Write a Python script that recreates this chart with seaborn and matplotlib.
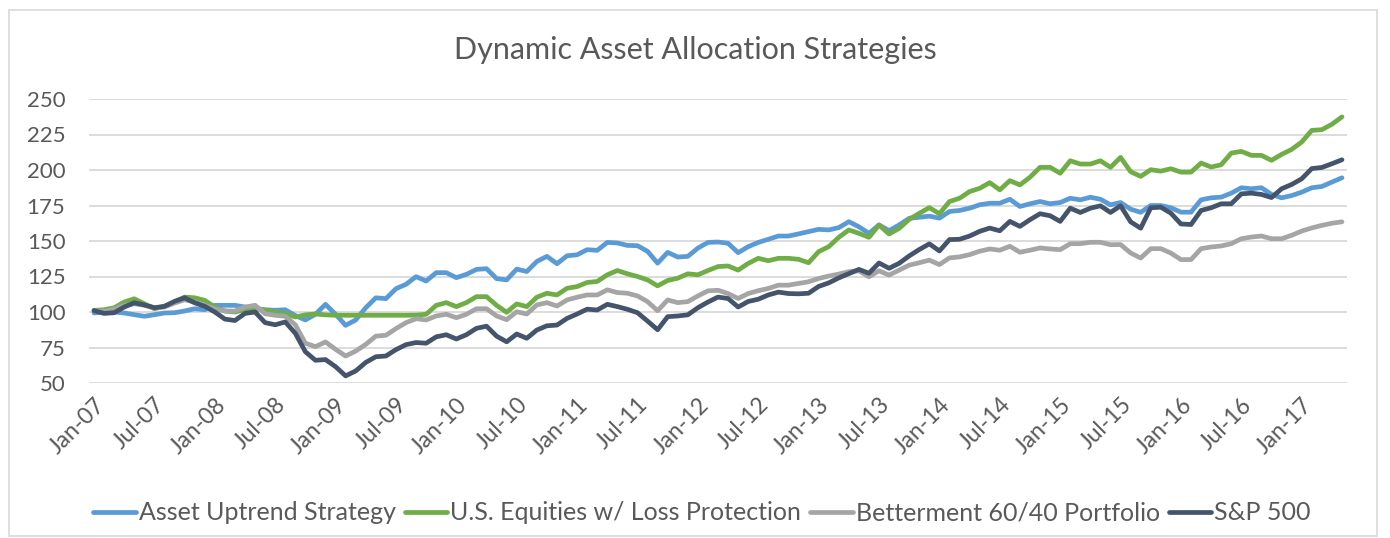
import numpy as np
import pandas as pd
import matplotlib
matplotlib.use('Agg')
import matplotlib.pyplot as plt
import seaborn as sb
from matplotlib.patches import Rectangle


#monthly index values, Jan-07 to May-17
asset_uptrend = [99.3, 100, 100, 99.3, 98.1, 97, 98.1, 99.3, 99.5, 100.7, 102.3, 101.6,
                 104.7, 104.7, 104.7, 103.5, 101.9, 101.6, 101.2, 101.6, 97.5, 94.4, 98.4, 105.4,
                 98.4, 90.6, 94.4, 103, 110, 109.4, 116.4, 119.5, 124.9, 121.8, 127.7, 127.7,
                 124.2, 126.5, 130, 130.5, 123.5, 122.6, 130.2, 128.5, 135.6, 139.2, 134, 139.6,
                 140.3, 143.9, 143.4, 149, 148.6, 146.9, 146.7, 142.7, 134.4, 142, 138.7, 139.2,
                 145, 149, 149.3, 148.4, 141.8, 146, 149, 151.2, 153.5, 153.5, 155, 156.6,
                 158.2, 157.8, 159.4, 163.6, 160, 155.4, 161.3, 157.3, 161.3, 166, 166.7, 167.5,
                 166.1, 170.8, 171.5, 173.1, 175.5, 176.6, 176.6, 179.4, 174.3, 176.2, 177.8, 176.2,
                 177.1, 180.1, 179, 180.8, 179.4, 175.5, 177.1, 172.4, 170.2, 175, 175, 173.4,
                 170.3, 170.3, 179, 180.4, 180.9, 183.7, 187.5, 186.8, 187.5, 182.8, 180.4, 182,
                 184.4, 187.5, 188.4, 191.5, 194.5]

loss_protection = [101.2, 101.6, 103, 107, 109.3, 105.8, 102.3, 104, 107, 110.5, 110, 108.2,
                   103.5, 100.7, 100, 101.6, 103, 101.2, 100, 98.8, 96.5, 98, 98.6, 98,
                   97.7, 97.7, 97.7, 97.7, 97.7, 97.7, 97.7, 97.7, 97.8, 98.4, 104.7, 106.6,
                   103.8, 106.6, 110.8, 110.8, 104.7, 99.8, 105.7, 103.8, 110.4, 113.2, 112, 116.7,
                   117.9, 120.8, 121.5, 126.2, 129.2, 126.9, 125, 122.6, 118.4, 122.2, 123.8, 126.9,
                   126.2, 129.2, 132, 132.4, 129.5, 134.2, 137.8, 136.1, 137.8, 137.8, 137.1, 134.7,
                   142.5, 146, 152.6, 157.8, 155.4, 152.6, 161.3, 154.9, 158.9, 165.3, 169.5, 173.5,
                   169.2, 177.8, 180.1, 184.8, 187.1, 191.1, 186, 192.5, 189.5, 194.9, 201.9, 201.9,
                   197.7, 206.5, 204.2, 204.2, 206.5, 201.9, 208.9, 198.8, 195.5, 200.2, 199.2, 200.9,
                   198.5, 198.5, 204.9, 202.1, 203.7, 211.9, 213.1, 210.3, 210.3, 206.8, 211, 214.5,
                   219.7, 227.9, 228.4, 232.2, 237.4]

betterment = [101.2, 100.5, 102, 104.7, 105.8, 104.7, 103, 103.5, 106.3, 108.6, 107, 104.7,
              102.3, 100.7, 100.7, 103.5, 104.7, 98.8, 97.7, 97, 91, 78, 75.6, 78.9,
              73.7, 69, 72.5, 77.2, 83, 83.6, 88.3, 92.5, 95.3, 94.4, 97.2, 98.4,
              96, 98.4, 102.3, 102.3, 97.2, 94.6, 100.2, 98.6, 105, 106.6, 104.2, 108.5,
              110.4, 112, 112, 115.6, 113.7, 113.2, 111.3, 107.3, 100.9, 108.5, 106.6, 107.3,
              111.3, 114.9, 115.3, 113, 109.5, 113, 115, 116.6, 118.9, 118.9, 120.1, 121.3,
              123.6, 125.3, 126.7, 128.4, 129, 124.8, 129, 126, 129.5, 133, 134.7, 136.5,
              133.4, 138.1, 138.8, 140.4, 142.8, 144.4, 143.5, 146.3, 142.1, 143.5, 145.1, 144.4,
              143.9, 148.1, 148.1, 149.1, 149.1, 147.4, 147.5, 141.6, 138, 144.6, 144.6, 141.5,
              136.9, 136.9, 144.6, 145.8, 146.5, 148.1, 151.6, 152.8, 153.5, 151.6, 151.6, 154,
              157, 159.2, 161, 162.5, 163.5]

sp500 = [101, 99, 99.5, 103.5, 106.5, 105, 103, 104, 107.5, 110, 106.5, 104,
         100, 95, 94, 99, 100, 92.5, 91, 93, 85, 72, 66, 66.5,
         61.5, 55, 58.5, 64.5, 68.5, 69, 73.5, 77, 78.5, 78, 82.5, 84,
         81, 84, 88.5, 90, 83, 79, 84.5, 81.5, 87.3, 90.3, 90.8, 95.5,
         98.6, 102, 101.4, 105.4, 103.8, 101.9, 99.5, 93.6, 87.5, 96.7, 97.2, 98,
         103, 107, 110.5, 109.5, 103.5, 107.4, 109, 112, 114, 113, 112.8, 113.2,
         118, 120.5, 124, 127, 130, 127.3, 134.5, 130.8, 134.3, 139.5, 144, 148,
         143, 151, 151.2, 153.5, 156.8, 159.1, 157.2, 163.8, 160.3, 165, 169.2, 167.8,
         163.8, 173.1, 170.1, 173.1, 174.8, 170.1, 174.8, 163.5, 159, 173.4, 173.8, 169.6,
         162, 161.6, 171.5, 173.4, 176.2, 176.2, 183.2, 183.7, 182.8, 180.6, 186.8, 189.8,
         193.8, 201, 201.8, 204.4, 207.2]

series_names = ['Asset Uptrend Strategy', 'U.S. Equities w/ Loss Protection',
                'Betterment 60/40 Portfolio', 'S&P 500']
colours = ['#5B9BD5', '#70AD47', '#A5A5A5', '#44546A']

months = pd.date_range('2007-01-01', periods=len(sp500), freq='MS')
month_labels = [m.strftime('%b-%y') for m in months]


#long form dataframe for seaborn
df = pd.DataFrame({
    'month': np.arange(len(months)),
    series_names[0]: asset_uptrend,
    series_names[1]: loss_protection,
    series_names[2]: betterment,
    series_names[3]: sp500,
})
long_df = df.melt(id_vars='month', var_name='strategy', value_name='value')


sb.set_style('white')
plt.rcParams['font.family'] = ['Lato', 'DejaVu Sans']
text_col = '#595959'

fig = plt.figure(figsize=(13.9, 5.38), dpi=100)
ax = fig.add_axes([89/1390, 1 - 383/538, 1258/1390, 284/538])

sb.lineplot(data=long_df, x='month', y='value', hue='strategy', hue_order=series_names,
            palette=colours, linewidth=3.4, ax=ax, legend=True)

ax.set_xlim(-0.5, len(months) - 0.5)
ax.set_ylim(50, 250)
ax.set_yticks(range(50, 251, 25))
ax.yaxis.grid(True, color='#D9D9D9', linewidth=1.3)
ax.set_axisbelow(True)
for s in ax.spines.values():
    s.set_visible(False)

tick_pos = list(range(0, len(months), 6))
ax.set_xticks(tick_pos)
ax.set_xticklabels([month_labels[i] for i in tick_pos], rotation=45, ha='right',
                   rotation_mode='anchor')
ax.tick_params(axis='x', length=0, pad=8, labelsize=16.5, labelcolor=text_col)
ax.tick_params(axis='y', length=0, pad=17, labelsize=16, labelcolor=text_col)
ax.set_xlabel('')
ax.set_ylabel('')

fig.text(0.5, 1 - 50/538, 'Dynamic Asset Allocation Strategies', ha='center', va='center',
         fontsize=22, color=text_col)

handles, labels = ax.get_legend_handles_labels()
ax.legend(handles, labels, loc='center', bbox_to_anchor=(702/1390, 1 - 513/538),
          bbox_transform=fig.transFigure, ncol=4, frameon=False, fontsize=18,
          labelcolor=text_col, handlelength=1.7, handletextpad=0.12, columnspacing=0.36)

#light chart border like the excel chart area
fig.patches.append(Rectangle((9/1390, 2/538), 1368/1390, 526/538, transform=fig.transFigure,
                             fill=False, edgecolor='#D9D9D9', linewidth=1.2))

plt.savefig('out.png', dpi=100)
